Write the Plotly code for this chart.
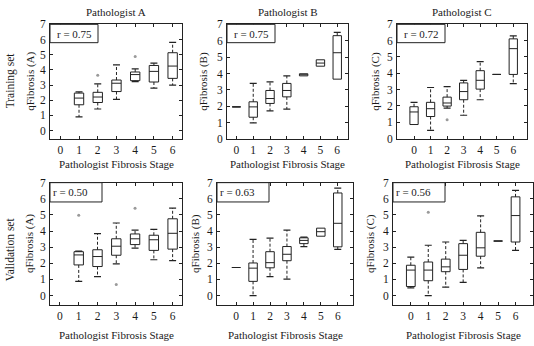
import plotly.graph_objects as go

# ---------------- data ----------------
STAGES_A = [1, 2, 3, 4, 5, 6]
STAGES_ALL = [0, 1, 2, 3, 4, 5, 6]

# Training set, Pathologist A
TA_LOW = [0.90, 1.42, 2.06, 3.22, 2.80, 3.00]
TA_Q1 = [1.70, 1.85, 2.57, 3.29, 3.20, 3.44]
TA_MED = [2.14, 2.21, 3.12, 3.69, 3.90, 4.25]
TA_Q3 = [2.47, 2.52, 3.33, 3.86, 4.29, 5.13]
TA_HIGH = [2.55, 3.08, 4.33, 4.07, 4.44, 5.81]
TA_OUT_X = [2, 4]
TA_OUT_Y = [3.65, 4.88]

# Training set, Pathologist B
TB_LOW = [1.97, 1.00, 1.73, 1.83, 3.86, 4.45, 3.66]
TB_Q1 = [1.97, 1.34, 2.18, 2.58, 3.86, 4.45, 3.66]
TB_MED = [1.97, 1.97, 2.48, 2.97, 3.94, 4.64, 5.27]
TB_Q3 = [1.97, 2.28, 2.97, 3.40, 3.99, 4.84, 6.31]
TB_HIGH = [1.97, 3.40, 3.50, 3.86, 3.99, 4.84, 6.51]
TB_OUT_X = []
TB_OUT_Y = []

# Training set, Pathologist C
TC_LOW = [0.86, 0.50, 1.87, 1.43, 2.38, 3.93, 3.37]
TC_Q1 = [0.86, 1.35, 1.99, 2.38, 3.03, 3.93, 3.93]
TC_MED = [1.63, 1.83, 2.18, 2.88, 3.57, 3.93, 5.51]
TC_Q3 = [1.95, 2.22, 2.54, 3.41, 4.16, 3.93, 6.11]
TC_HIGH = [2.22, 3.13, 3.18, 3.57, 4.72, 3.93, 6.29]
TC_OUT_X = [2]
TC_OUT_Y = [1.15]

# Validation set, Pathologist A
VA_LOW = [0.88, 1.18, 1.96, 2.94, 2.22, 2.16]
VA_Q1 = [1.90, 1.80, 2.50, 3.16, 2.80, 2.88]
VA_MED = [2.52, 2.42, 3.06, 3.52, 3.46, 3.86]
VA_Q3 = [2.72, 2.84, 3.52, 3.82, 3.74, 4.76]
VA_HIGH = [2.76, 3.84, 4.50, 4.06, 4.10, 5.42]
VA_OUT_X = [1, 3, 4]
VA_OUT_Y = [4.98, 0.68, 5.42]

# Validation set, Pathologist B
VB_LOW = [1.74, 0.00, 1.18, 1.02, 3.04, 3.68, 2.86]
VB_Q1 = [1.74, 0.88, 1.72, 2.16, 3.22, 3.68, 3.02]
VB_MED = [1.74, 1.70, 2.04, 2.56, 3.42, 3.96, 4.48]
VB_Q3 = [1.74, 2.02, 2.72, 3.04, 3.58, 4.18, 6.36]
VB_HIGH = [1.74, 3.48, 3.56, 4.06, 3.62, 4.20, 6.66]
VB_OUT_X = []
VB_OUT_Y = []

# Validation set, Pathologist C
VC_LOW = [0.48, 0.00, 0.52, 0.82, 1.72, 3.38, 2.80]
VC_Q1 = [0.56, 0.92, 1.48, 1.62, 2.44, 3.38, 3.32]
VC_MED = [1.58, 1.58, 1.78, 2.50, 2.96, 3.38, 4.96]
VC_Q3 = [1.88, 2.08, 2.26, 3.22, 3.92, 3.38, 6.12]
VC_HIGH = [2.38, 3.12, 3.32, 3.42, 4.94, 3.38, 6.52]
VC_OUT_X = [1]
VC_OUT_Y = [5.16]

R_LABELS = ["r = 0.75", "r = 0.75", "r = 0.72", "r = 0.50", "r = 0.63", "r = 0.56"]
COL_TITLES = ["Pathologist A", "Pathologist B", "Pathologist C"]
ROW_TITLES = ["Training set", "Validation set"]
Y_TITLES = ["qFibrosis (A)", "qFibrosis (B)", "qFibrosis (C)"]
X_TITLE = "Pathologist Fibrosis Stage"
X_TICKS = [0, 1, 2, 3, 4, 5, 6]
Y_TICKS = [0, 1, 2, 3, 4, 5, 6, 7]

# ---------------- layout helpers ----------------
W, H = 534, 346
FONT = "Liberation Serif, Times New Roman, serif"
TXT = "#1a1a1a"
LBL = 11
TICK = 11.5

def fx(p):
    return p / W

def fy(p):
    return 1 - p / H

# pixel boxes of each panel: (left, right, top, bottom), x range, y range
PANELS = [
    dict(box=(50, 182, 19, 138), xr=[-0.55, 6.5], yr=[-0.57, 7]),
    dict(box=(227, 348, 19, 138), xr=[-0.56, 6.64], yr=[0, 7]),
    dict(box=(397, 527, 19, 138), xr=[-1.03, 6.83], yr=[-0.04, 7]),
    dict(box=(50, 182, 183, 310), xr=[-0.53, 6.5], yr=[-0.6, 7]),
    dict(box=(217, 353, 183, 310), xr=[-1.13, 6.9], yr=[-0.6, 7]),
    dict(box=(393, 533, 183, 310), xr=[-1.02, 7.0], yr=[-0.6, 7]),
]

DATA = [
    (STAGES_A, TA_LOW, TA_Q1, TA_MED, TA_Q3, TA_HIGH, TA_OUT_X, TA_OUT_Y),
    (STAGES_ALL, TB_LOW, TB_Q1, TB_MED, TB_Q3, TB_HIGH, TB_OUT_X, TB_OUT_Y),
    (STAGES_ALL, TC_LOW, TC_Q1, TC_MED, TC_Q3, TC_HIGH, TC_OUT_X, TC_OUT_Y),
    (STAGES_A, VA_LOW, VA_Q1, VA_MED, VA_Q3, VA_HIGH, VA_OUT_X, VA_OUT_Y),
    (STAGES_ALL, VB_LOW, VB_Q1, VB_MED, VB_Q3, VB_HIGH, VB_OUT_X, VB_OUT_Y),
    (STAGES_ALL, VC_LOW, VC_Q1, VC_MED, VC_Q3, VC_HIGH, VC_OUT_X, VC_OUT_Y),
]

fig = go.Figure()
layout = dict(
    width=W, height=H, margin=dict(l=0, r=0, t=0, b=0),
    paper_bgcolor="white", plot_bgcolor="white",
    showlegend=False, font=dict(family=FONT, size=12, color=TXT),
)
annotations = []
shapes = []

for i, (panel, d) in enumerate(zip(PANELS, DATA)):
    n = i + 1
    xa = "x" if n == 1 else f"x{n}"
    ya = "y" if n == 1 else f"y{n}"
    xkey = "xaxis" if n == 1 else f"xaxis{n}"
    ykey = "yaxis" if n == 1 else f"yaxis{n}"
    l, r, t, b = panel["box"]
    common = dict(showgrid=False, zeroline=False, showline=True, linecolor="#222",
                  linewidth=1, mirror="allticks", ticks="inside", ticklen=3,
                  tickcolor="#222", tickfont=dict(family=FONT, size=TICK, color=TXT))
    layout[xkey] = dict(domain=[fx(l), fx(r)], range=panel["xr"], anchor=ya,
                        tickvals=X_TICKS, ticklabelstandoff=0, **common)
    layout[ykey] = dict(domain=[fy(b), fy(t)], range=panel["yr"], anchor=xa,
                        tickvals=Y_TICKS, ticklabelstandoff=1, **common)

    stages, low, q1, med, q3, high, ox, oy = d

    # dashed whiskers
    wx, wy, cx, cy = [], [], [], []
    for s, lo, a, c, hi in zip(stages, low, q1, q3, high):
        if hi - c > 0.03:
            wx += [s, s, None]
            wy += [c, hi, None]
            cx.append(s); cy.append(hi)
        if a - lo > 0.03:
            wx += [s, s, None]
            wy += [a, lo, None]
            cx.append(s); cy.append(lo)
    fig.add_trace(go.Scatter(x=wx, y=wy, mode="lines", xaxis=xa, yaxis=ya,
                             line=dict(color="#222", width=1, dash="3px,2px"),
                             hoverinfo="skip"))
    fig.add_trace(go.Scatter(x=cx, y=cy, mode="markers", xaxis=xa, yaxis=ya,
                             marker=dict(symbol="line-ew", size=5,
                                         line=dict(color="#222", width=1.2)),
                             hoverinfo="skip"))
    # boxes
    fig.add_trace(go.Box(x=stages, q1=q1, median=med, q3=q3,
                         lowerfence=q1, upperfence=q3, width=0.5,
                         boxpoints=False, whiskerwidth=0,
                         fillcolor="white", line=dict(color="#222", width=1),
                         xaxis=xa, yaxis=ya, hoverinfo="skip"))
    # outliers
    if ox:
        fig.add_trace(go.Scatter(x=ox, y=oy, mode="markers", xaxis=xa, yaxis=ya,
                                 marker=dict(size=3, color="#9a9a9a"),
                                 hoverinfo="skip"))

    # r label box
    bw = 48 if i < 3 else 52
    bh = 19 if i < 3 else 20
    shapes.append(dict(type="rect", xref="paper", yref="paper",
                       x0=fx(l), x1=fx(l + bw), y0=fy(t + bh), y1=fy(t),
                       line=dict(color="#222", width=1), fillcolor="white"))
    if i < 3:
        annotations.append(dict(text=R_LABELS[i], xref="paper", yref="paper",
                                x=fx(l + bw / 2), y=fy(t + bh / 2), showarrow=False,
                                xanchor="center", yanchor="middle",
                                font=dict(family=FONT, size=LBL, color=TXT)))
    else:
        annotations.append(dict(text=R_LABELS[i], xref="paper", yref="paper",
                                x=fx(l + 1), y=fy(t + bh / 2), showarrow=False,
                                xanchor="left", yanchor="middle",
                                font=dict(family=FONT, size=LBL, color=TXT)))

    # x-axis title
    xt_y = 164 if i < 3 else 341
    annotations.append(dict(text=X_TITLE, xref="paper", yref="paper",
                            x=fx((l + r) / 2), y=fy(xt_y), showarrow=False,
                            xanchor="center", yanchor="middle",
                            font=dict(family=FONT, size=LBL, color=TXT)))
    # y-axis title
    yt_x = [31, 204, 376, 30, 196, 371][i]
    annotations.append(dict(text=Y_TITLES[i % 3], xref="paper", yref="paper",
                            x=fx(yt_x), y=fy((t + b) / 2), showarrow=False,
                            textangle=-90, xanchor="center", yanchor="middle",
                            font=dict(family=FONT, size=LBL, color=TXT)))
    # column titles
    if i < 3:
        annotations.append(dict(text=COL_TITLES[i], xref="paper", yref="paper",
                                x=fx((l + r) / 2), y=fy(6), showarrow=False,
                                xanchor="center", yanchor="middle",
                                font=dict(family=FONT, size=LBL, color=TXT)))

# row titles
annotations.append(dict(text=ROW_TITLES[0], xref="paper", yref="paper",
                        x=fx(10), y=fy(77), showarrow=False, textangle=-90,
                        xanchor="center", yanchor="middle",
                        font=dict(family=FONT, size=LBL + 0.5, color=TXT)))
annotations.append(dict(text=ROW_TITLES[1], xref="paper", yref="paper",
                        x=fx(10), y=fy(252), showarrow=False, textangle=-90,
                        xanchor="center", yanchor="middle",
                        font=dict(family=FONT, size=LBL + 0.5, color=TXT)))

layout["annotations"] = annotations
layout["shapes"] = shapes
fig.update_layout(**layout)
fig.write_html("out.html", config={"displayModeBar": False},
               post_script="document.body.style.margin='0';document.body.style.overflow='hidden';")
